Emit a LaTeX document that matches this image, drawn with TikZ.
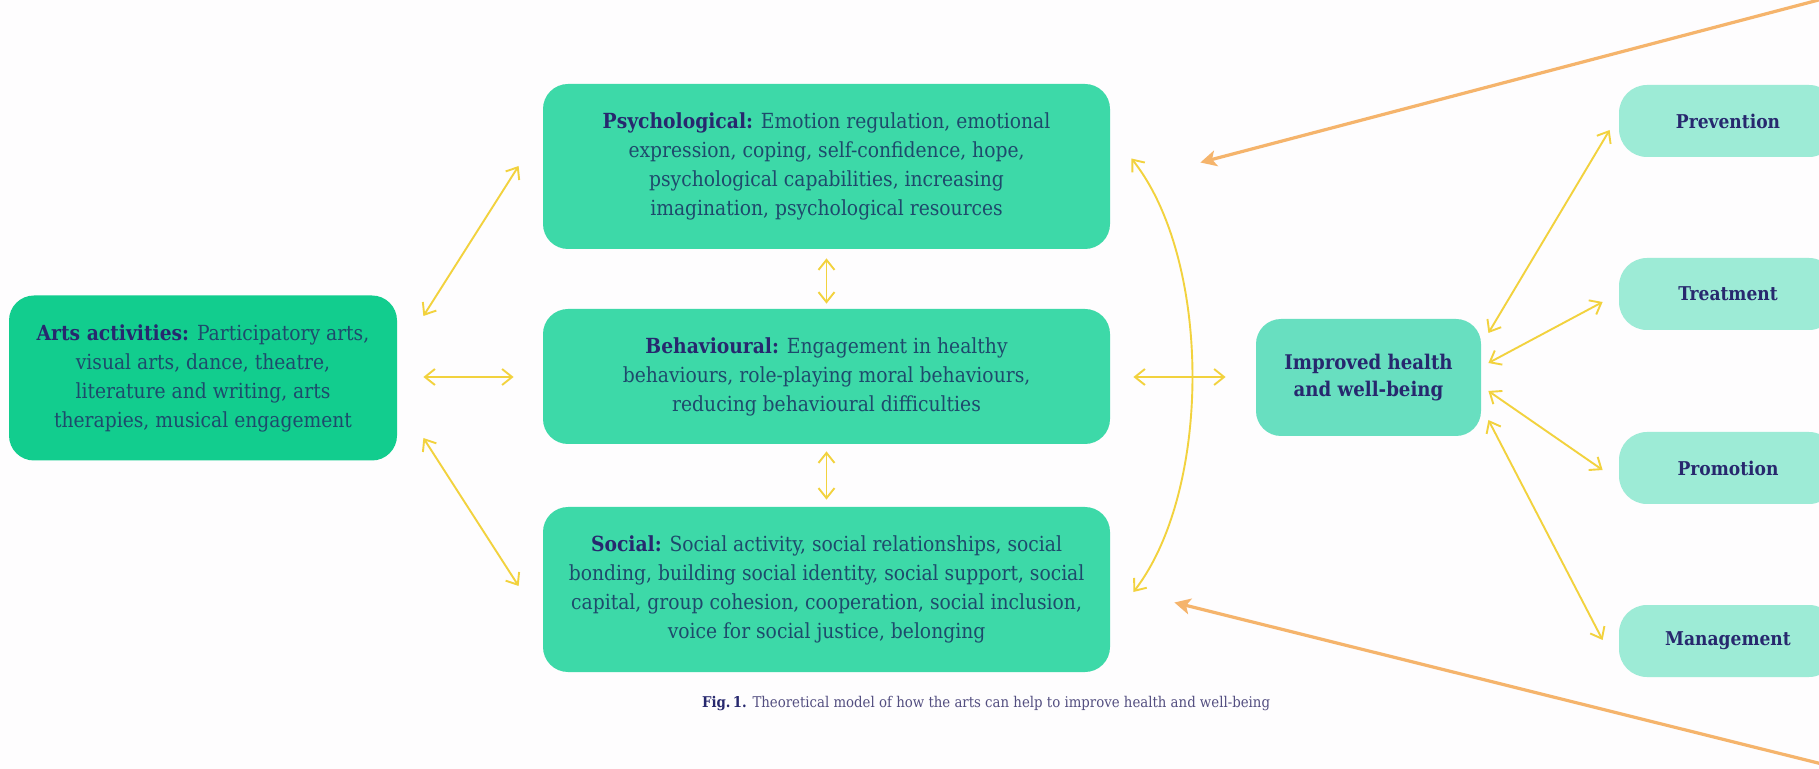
\documentclass[tikz,border=0pt]{standalone}
\usepackage{fontspec}
\setmainfont{DejaVu Serif Condensed}
\usetikzlibrary{arrows.meta,calc}
\definecolor{bg}{HTML}{FEFDFE}
\definecolor{artsc}{HTML}{12CD8E}
\definecolor{midc}{HTML}{3DD9A8}
\definecolor{impc}{HTML}{68DFC0}
\definecolor{outc}{HTML}{9DEBD6}
\definecolor{headc}{HTML}{27286E}
\definecolor{bodyc}{HTML}{1E4A6C}
\definecolor{yel}{HTML}{F2D23E}
\definecolor{ora}{HTML}{F5B46C}
\definecolor{capc}{HTML}{534E80}
\newcommand{\hd}[1]{{\bfseries\color{headc}#1}}
\tikzset{
  box/.style={rounded corners=12.5pt, inner sep=0pt, align=center, text=bodyc,
    font=\fontsize{10.4}{14.5}\selectfont},
  artsbox/.style={box, fill=artsc, minimum width=194pt, minimum height=82.5pt},
  midbox/.style={box, fill=midc, minimum width=283.5pt},
  impbox/.style={box, fill=impc, minimum width=112.5pt, minimum height=58.5pt, text=headc,
    font=\bfseries\fontsize{10.1}{13.5}\selectfont},
  outbox/.style={box, fill=outc, rounded corners=14pt, minimum width=109pt, minimum height=36pt, text=headc,
    font=\bfseries\fontsize{9.5}{13}\selectfont},
  yarr/.style={draw=yel, line width=0.95pt, {Straight Barb[length=5pt,width=8pt]}-{Straight Barb[length=5pt,width=8pt]}},
  oarr/.style={draw=ora, line width=1.6pt, -{Stealth[length=8pt,width=8pt,inset=2pt]}},
}
\begin{document}
\begin{tikzpicture}[x=0.5pt,y=-0.5pt]
\useasboundingbox (0,0) rectangle (1819,769);
\clip (0,0) rectangle (1819,769);
\fill[bg] (0,0) rectangle (1819,769);

\node[artsbox] (arts) at (203,378) {\hd{Arts activities:} Participatory arts,\\ visual arts, dance, theatre,\\ literature and writing, arts\\ therapies, musical engagement};
\node[midbox, minimum height=82.5pt] (psych) at (826.5,166.5) {\hd{Psychological:} Emotion regulation, emotional\\ expression, coping, self-confidence, hope,\\ psychological capabilities, increasing\\ imagination, psychological resources};
\node[midbox, minimum height=67.5pt] (behav) at (826.5,376.5) {\hd{Behavioural:} Engagement in healthy\\ behaviours, role-playing moral behaviours,\\ reducing behavioural difficulties};
\node[midbox, minimum height=82.5pt] (social) at (826.5,589.5) {\hd{Social:} Social activity, social relationships, social\\ bonding, building social identity, social support, social\\ capital, group cohesion, cooperation, social inclusion,\\ voice for social justice, belonging};
\node[impbox] (imp) at (1368.5,377.5) {Improved health\\ and well-being};
\node[outbox] (prev) at (1728,121) {Prevention};
\node[outbox] (treat) at (1728,294) {Treatment};
\node[outbox] (prom) at (1728,468) {Promotion};
\node[outbox] (mgmt) at (1728,641) {Management};

\node[font=\fontsize{7.4}{10}\selectfont, text=capc, inner sep=0pt] (cap) at (986,704) {{\bfseries\color{headc}Fig.\,1.} Theoretical model of how the arts can help to improve health and well-being};

% yellow connectors
\draw[yarr] ($(arts.east)+(26,-62)$) -- ($(psych.west)+(-24,-0.5)$);
\draw[yarr] ($(arts.east)+(26,-1)$) -- ($(behav.west)+(-29,0.5)$);
\draw[yarr] ($(arts.east)+(26,60)$) -- ($(social.west)+(-24,-3.5)$);
\draw[yarr] ($(psych.south)+(0,9)$) -- ($(behav.north)+(0,-5)$);
\draw[yarr] ($(behav.south)+(0,7)$) -- ($(social.north)+(0,-7)$);
\draw[yarr] ($(behav.east)+(23,0.5)$) -- ($(imp.west)+(-30,-0.5)$);
\draw[yarr] ($(psych.east)+(21,-8)$) .. controls (1212,260) and (1212,490) .. ($(social.east)+(23,2.5)$);
\draw[yarr] ($(imp.east)+(7,-44.5)$) -- ($(prev.west)+(-9,9)$);
\draw[yarr] ($(imp.east)+(7,-14.5)$) -- ($(treat.west)+(-16,8)$);
\draw[yarr] ($(imp.east)+(7,13.5)$) -- ($(prom.west)+(-16,2)$);
\draw[yarr] ($(imp.east)+(7,42.5)$) -- ($(mgmt.west)+(-16,-1)$);

% orange connectors
\coordinate (otop) at (1830,-3);
\coordinate (obot) at (1830,766);
\draw[oarr] (otop) -- ($(psych.east)+(90,-4)$);
\draw[oarr] (obot) -- ($(social.east)+(64,13)$);
\end{tikzpicture}
\end{document}
